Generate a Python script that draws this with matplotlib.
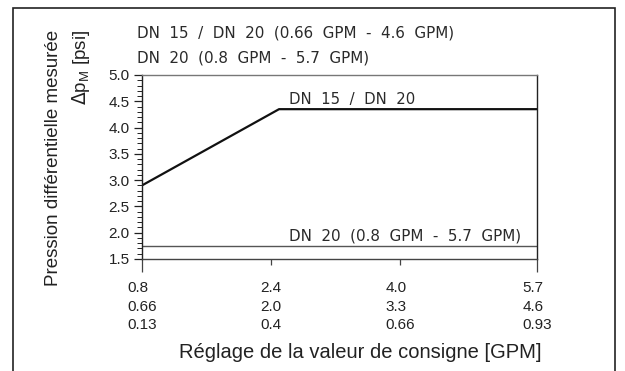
import matplotlib
matplotlib.use('Agg')
import matplotlib.pyplot as plt
from matplotlib.patches import Rectangle
from matplotlib.ticker import MultipleLocator, FormatStrFormatter

# data
x_ticks = [0.8, 2.4, 4.0, 5.7]
x_labels = ['0.8\n0.66\n0.13', '2.4\n2.0\n0.4', '4.0\n3.3\n0.66', '5.7\n4.6\n0.93']
dn15_x = [0.8, 2.5, 5.7]
dn15_y = [2.9, 4.35, 4.35]
dn20_x = [0.8, 5.7]
dn20_y = [1.75, 1.75]

legend_1 = 'DN  15  /  DN  20  (0.66  GPM  -  4.6  GPM)'
legend_2 = 'DN  20  (0.8  GPM  -  5.7  GPM)'
label_1 = 'DN  15  /  DN  20'
label_2 = 'DN  20  (0.8  GPM  -  5.7  GPM)'

plt.rcParams['font.family'] = ['Liberation Sans', 'DejaVu Sans']
tech = {'family': 'DejaVu Sans', 'color': '#2a2a2a'}

fig = plt.figure(figsize=(6.25, 3.71), dpi=100)

# outer frame
fig.patches.append(Rectangle((13 / 625, -0.1), 602 / 625, 1.1 - 8 / 371,
                             transform=fig.transFigure, fill=False,
                             edgecolor='#222222', lw=1.2))

ax = fig.add_axes((142 / 625, 1 - 259 / 371, 395 / 625, 184 / 371))
ax.plot(dn15_x, dn15_y, color='#111111', lw=1.6, solid_capstyle='butt')
ax.plot(dn20_x, dn20_y, color='#555555', lw=1.0)

ax.set_xlim(0.8, 5.7)
ax.set_ylim(1.5, 5.0)
ax.set_xticks(x_ticks)
ax.set_xticklabels(x_labels, fontsize=11, linespacing=1.4)
for lab in ax.get_xticklabels():
    lab.set_multialignment('left')
ax.yaxis.set_major_locator(MultipleLocator(0.5))
ax.yaxis.set_minor_locator(MultipleLocator(0.1))
ax.yaxis.set_major_formatter(FormatStrFormatter('%.1f'))
ax.tick_params(axis='y', which='major', length=6, width=0.9, labelsize=11,
               pad=3, color='#222222', labelcolor='#222222')
ax.tick_params(axis='y', which='minor', length=3.5, width=0.7, color='#222222')
ax.tick_params(axis='x', length=4, width=0.9, pad=12, color='#444444',
               labelcolor='#222222')
ticks = ax.xaxis.get_major_ticks()
ticks[0].tick1line.set_markersize(9)
ticks[-1].tick1line.set_markersize(9)

ax.spines['left'].set_color('#222222')
ax.spines['right'].set_color('#222222')
ax.spines['bottom'].set_color('#444444')
ax.spines['top'].set_color('#777777')
for s in ax.spines.values():
    s.set_linewidth(1.0)

# inline labels
ax.text(2.62, 4.39, label_1, fontsize=10.7, va='bottom', **tech)
ax.text(2.62, 1.79, label_2, fontsize=10.9, va='bottom', **tech)

# header legend text
fig.text(137 / 625, 1 - 33 / 371, legend_1, fontsize=10.9, va='center', **tech)
fig.text(137 / 625, 1 - 58 / 371, legend_2, fontsize=10.9, va='center', **tech)

# axis titles
fig.text(54 / 625, 1 - 30 / 371, 'Pression différentielle mesurée', rotation=90,
         ha='center', va='top', fontsize=13.5, color='#222222')
fig.text(81 / 625, 1 - 30 / 371, r'$\Delta$p$_\mathregular{M}$ [psi]', rotation=90,
         ha='center', va='top', fontsize=13.5, color='#222222')
fig.text(360 / 625, 1 - 353 / 371, 'Réglage de la valeur de consigne [GPM]',
         ha='center', va='center', fontsize=14.5, color='#222222')

fig.savefig('out.png', dpi=100)
